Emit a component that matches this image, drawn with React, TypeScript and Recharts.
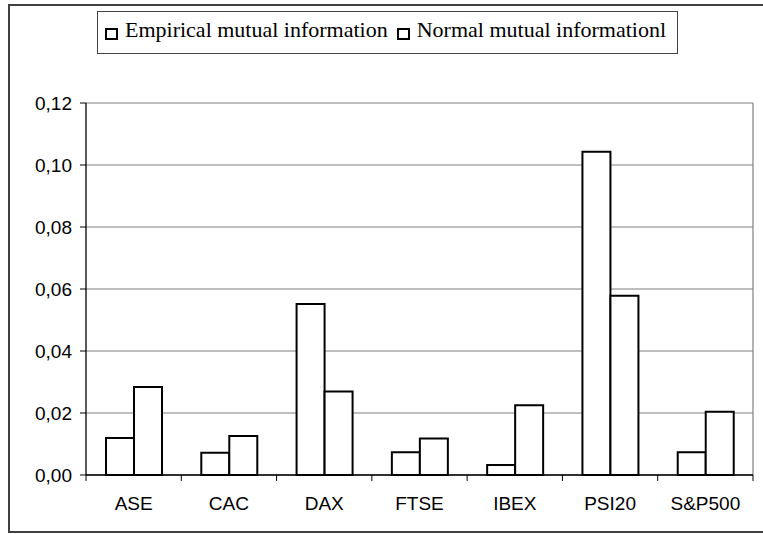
import { Bar, BarChart, CartesianGrid, XAxis, YAxis } from "recharts"

const categories = ["ASE", "CAC", "DAX", "FTSE", "IBEX", "PSI20", "S&P500"]
const empirical = [0.0119, 0.0072, 0.0552, 0.0073, 0.0032, 0.1043, 0.0073]
const normal = [0.0284, 0.0126, 0.0269, 0.0118, 0.0225, 0.0578, 0.0204]
const seriesNames = ["Empirical mutual information", "Normal mutual informationl"]
const yTicks = [0, 0.02, 0.04, 0.06, 0.08, 0.1, 0.12]

const data = categories.map((name, i) => ({
  name,
  empirical: empirical[i],
  normal: normal[i],
}))

const W = 763
const H = 534
const margin = { top: 103, right: 10, left: 8, bottom: 29 }
const yAxisWidth = 78
const plotWidth = W - margin.left - margin.right - yAxisWidth
const band = plotWidth / categories.length

const sans = "'Liberation Sans', Arial, sans-serif"
const serif = "'Liberation Serif', 'Times New Roman', serif"

const formatTick = (v: number) => v.toFixed(2).replace(".", ",")

const CategoryTick = (props: any) => {
  const { x, y, payload, index } = props
  const axisY = y - 22
  const left = x - band / 2
  const right = x + band / 2
  return (
    <g>
      <line x1={left} x2={left} y1={axisY} y2={axisY + 6} stroke="#000" strokeWidth={1} />
      {index === categories.length - 1 && (
        <line x1={right} x2={right} y1={axisY} y2={axisY + 6} stroke="#000" strokeWidth={1} />
      )}
      <text x={x} y={y} dy="0.71em" textAnchor="middle" fill="#000" fontFamily={sans} fontSize={19}>
        {payload.value}
      </text>
    </g>
  )
}

const LegendBox = () => (
  <div
    style={{
      position: "absolute",
      left: 97,
      top: 11,
      width: 581,
      height: 43,
      boxSizing: "border-box",
      border: "1px solid #444",
      background: "#fff",
      fontFamily: serif,
      fontSize: 22,
      color: "#000",
    }}
  >
    <div style={{ position: "absolute", left: 7, top: 5, display: "flex", alignItems: "baseline", whiteSpace: "nowrap", lineHeight: "26px" }}>
      {seriesNames.map((name, i) => (
        <span key={name} style={{ display: "inline-flex", alignItems: "baseline", marginRight: i === 0 ? 9 : 0 }}>
          <span
            style={{
              display: "inline-block",
              width: 13,
              height: 12,
              boxSizing: "border-box",
              border: "2px solid #000",
              background: "#fff",
              marginRight: 7,
              position: "relative",
              top: 3,
            }}
          />
          {name}
        </span>
      ))}
    </div>
  </div>
)

export default function App() {
  return (
    <div style={{ position: "absolute", left: 0, top: 0, width: W, height: H, background: "#fff", overflow: "hidden" }}>
      <div
        style={{
          position: "absolute",
          left: 8,
          top: 4,
          width: W - 8,
          height: 529,
          boxSizing: "border-box",
          borderLeft: "2px solid #404040",
          borderTop: "2px solid #404040",
          borderBottom: "2px solid #404040",
        }}
      />
      <div style={{ position: "absolute", left: 0, top: 0 }}>
        <BarChart width={W} height={H} data={data} margin={margin} barCategoryGap="21%" barGap={0}>
          <CartesianGrid
            stroke="#808080"
            strokeWidth={1.2}
            verticalCoordinatesGenerator={({ offset }: any) => [offset.left + offset.width]}
          />
          <XAxis
            dataKey="name"
            height={30}
            interval={0}
            tickLine={false}
            tickSize={6}
            tickMargin={16}
            axisLine={{ stroke: "#000", strokeWidth: 1.6 }}
            tick={<CategoryTick />}
          />
          <YAxis
            width={yAxisWidth}
            domain={[0, 0.12]}
            ticks={yTicks}
            tickFormatter={formatTick}
            tickSize={6}
            tickMargin={8}
            tickLine={{ stroke: "#000" }}
            axisLine={{ stroke: "#000", strokeWidth: 1.3 }}
            tick={{ fill: "#000", fontFamily: sans, fontSize: 19 }}
          />
          <Bar dataKey="empirical" name={seriesNames[0]} fill="#fff" stroke="#000" strokeWidth={2} isAnimationActive={false} />
          <Bar dataKey="normal" name={seriesNames[1]} fill="#fff" stroke="#000" strokeWidth={2} isAnimationActive={false} />
        </BarChart>
      </div>
      <LegendBox />
    </div>
  )
}
